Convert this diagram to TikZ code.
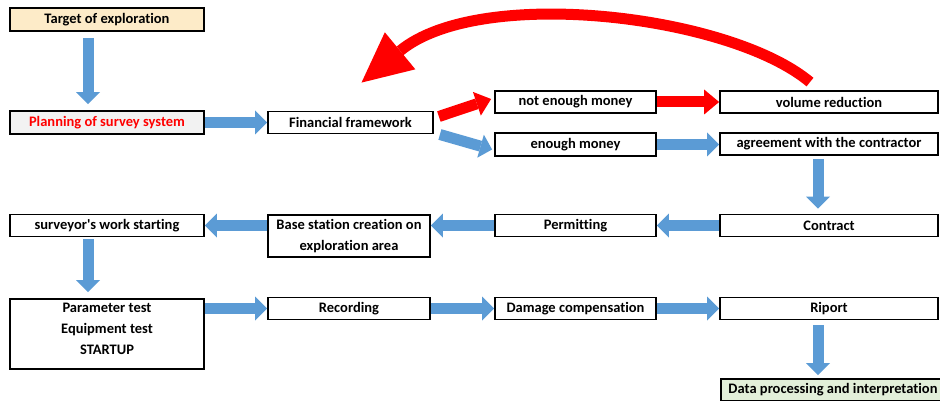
\documentclass[tikz,border=0pt]{standalone}
\usepackage{fontspec}
\setmainfont[Ligatures=NoCommon]{Carlito}
\usetikzlibrary{arrows.meta,positioning,calc}
\definecolor{arrowblue}{RGB}{91,155,213}
\definecolor{targetfill}{RGB}{253,235,200}
\definecolor{planfill}{RGB}{242,242,242}
\definecolor{datafill}{RGB}{226,239,217}

\begin{document}
\begin{tikzpicture}[x=1pt,y=-1pt,
    box/.style={draw,line width=1.8pt,inner sep=0pt,minimum height=22pt,align=center,font=\fontsize{14.5}{21}\selectfont\bfseries},
    bluearrow/.style={arrowblue,line width=11pt,-{Triangle[length=12pt,width=24pt,line width=0pt]}},
    redarrow/.style={red,line width=11pt,-{Triangle[length=15pt,width=25pt,line width=0pt]}}]
      \useasboundingbox (0,0) rectangle (940,401);
      \node[box,fill=targetfill,minimum width=194pt,minimum height=23pt] (target) at (107,19.5) {Target of exploration};
      \node[box,fill=planfill,text=red,minimum width=194pt,minimum height=23pt] (plan) at (107,122.5) {Planning of survey system};
      \node[box,minimum width=165pt] (fin) at (350.5,122.5) {Financial framework};
      \node[box,minimum width=161pt] (notenough) at (575.5,102) {not enough money};
      \node[box,minimum width=161pt,minimum height=23pt] (enough) at (575.5,144.5) {enough money};
      \node[box,minimum width=218pt] (volume) at (829,102) {volume reduction};
      \node[box,minimum width=218pt] (agree) at (829,144) {agreement with the contractor};
      \node[box,minimum width=218pt] (contract) at (829,225.5) {Contract};
      \node[box,minimum width=161pt] (permit) at (575.5,225.5) {Permitting};
      \node[box,minimum width=162pt,minimum height=42pt] (base) at (349,236) {Base station creation on\\exploration area};
      \node[box,minimum width=194pt] (surveyor) at (107,225.5) {surveyor\textquotesingle s work starting};
      \node[box,anchor=north,minimum width=194pt,minimum height=70pt,text depth=10pt] (param) at (107,298) {Parameter test\\Equipment test\\STARTUP};
      \node[box,minimum width=162pt] (record) at (349,308.5) {Recording};
      \node[box,minimum width=161pt] (damage) at (575.5,308.5) {Damage compensation};
      \node[box,minimum width=218pt] (riport) at (829,308.5) {Riport};
      \node[box,fill=datafill,minimum width=224pt] (data) at (833,390) {Data processing and interpretation};
      \coordinate (loopstart) at ([xshift=-19pt,yshift=8pt]volume.north);
      \coordinate (looptip) at ([xshift=11pt,yshift=28pt]fin.north);
      \draw[redarrow,-{Triangle[length=50pt,width=48pt,line width=0pt]}] (loopstart) .. controls (730,15) and (480,-15) .. (looptip);
      \draw[bluearrow,shorten <=6pt,shorten >=6pt] ([xshift=-19pt]target.south) -- ([xshift=-19pt]plan.north);
      \draw[bluearrow] (plan) -- (fin);
      \draw[redarrow] ([xshift=5pt,yshift=6pt]fin.east) -- ([xshift=-3pt,yshift=3pt]notenough.west);
      \draw[bluearrow] ([xshift=6pt,yshift=-12pt]fin.east) -- ([xshift=-2pt,yshift=-5pt]enough.west);
      \draw[redarrow] (notenough) -- (volume);
      \draw[bluearrow] (enough.east) -- (enough.east -| agree.west);
      \draw[bluearrow,shorten <=3pt,shorten >=5pt] ([xshift=-11pt]agree.south) -- ([xshift=-11pt]contract.north);
      \draw[bluearrow] (contract) -- (permit);
      \draw[bluearrow] (permit.west) -- (permit.west -| base.east);
      \draw[bluearrow] (surveyor.east -| base.west) -- (surveyor.east);
      \draw[bluearrow,shorten <=2pt,shorten >=6pt] ([xshift=-19pt]surveyor.south) -- ([xshift=-19pt]param.north);
      \draw[bluearrow] (record.west -| param.east) -- (record.west);
      \draw[bluearrow] (record) -- (damage);
      \draw[bluearrow] (damage) -- (riport);
      \draw[bluearrow,shorten <=5pt,shorten >=3pt] ([xshift=-11pt]riport.south) -- ([xshift=-11pt]riport.south |- data.north);
    \end{tikzpicture}
\end{document}
